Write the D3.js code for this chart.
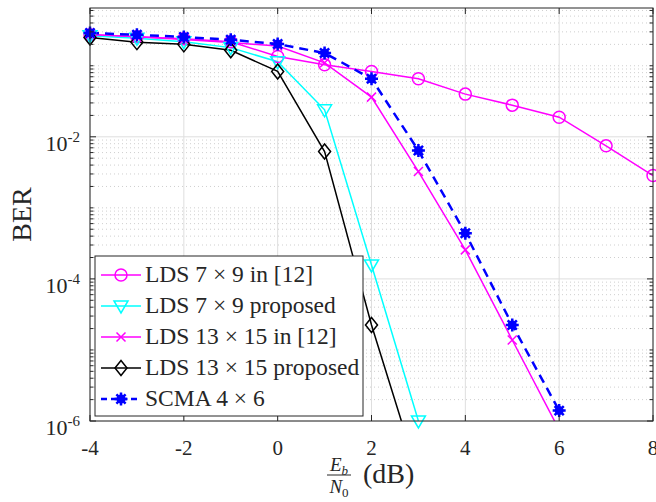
<!DOCTYPE html>
<html lang="en">
	<head>
		<meta charset="utf-8">
		<title>BER</title>
		<script type="text/javascript" src="https://cdn.jsdelivr.net/npm/d3@7"></script>
		<style type="text/css">
			body { margin: 0; background: white; }
			svg text { font-family: "Liberation Serif", "Times New Roman", serif; fill: #262626; }
		</style>
	</head>
	<body>
		<script type="text/javascript">

			//Eb/N0 values (dB)
			var snr = [-4, -3, -2, -1, 0, 1, 2, 3, 4, 5, 6, 7, 8];

			//BER per curve
			var lds79Ref   = [0.273, 0.256, 0.240, 0.218, 0.135, 0.103, 0.083, 0.0656, 0.0399, 0.0279, 0.0189, 0.00746, 0.00285];
			var lds79Prop  = [0.265, 0.244, 0.218, 0.180, 0.114, 0.024, 1.57e-4, 1.0e-6];
			var lds1315Ref = [0.275, 0.255, 0.235, 0.212, 0.19, 0.11, 0.0362, 0.00324, 2.56e-4, 1.38e-5, 7.5e-7];
			var lds1315Prop = [0.25, 0.215, 0.20, 0.165, 0.0832, 0.00621, 2.25e-5, 1.7e-7];
			var scma       = [0.289, 0.273, 0.254, 0.232, 0.202, 0.151, 0.0656, 0.00641, 4.4e-4, 2.25e-5, 1.40e-6];

			var xTicks = [-4, -2, 0, 2, 4, 6, 8];
			var yTicks = [1e-6, 1e-4, 1e-2];
			var yTickExp = ["-6", "-4", "-2"];

			var legendLabels = ["LDS 7 \u00d7 9 in [12]", "LDS 7 \u00d7 9 proposed", "LDS 13 \u00d7 15 in [12]",
			                    "LDS 13 \u00d7 15 proposed", "SCMA 4 \u00d7 6"];

			//Width and height
			var w = 656;
			var h = 502;
			var padL = 90, padR = 653, padT = 8, padB = 421;
			var axisColor = "#262626";

			var xScale = d3.scaleLinear().domain([-4, 8]).range([padL, padR]);
			var yScale = d3.scaleLog().domain([1e-6, 0.65]).range([padB, padT]);

			var series = [
				{ data: lds79Ref,    color: "#ff00ff", marker: "circle",   dash: null, width: 1.5 },
				{ data: lds79Prop,   color: "#00ffff", marker: "triangle", dash: null, width: 1.5 },
				{ data: lds1315Ref,  color: "#ff00ff", marker: "cross",    dash: null, width: 1.5 },
				{ data: lds1315Prop, color: "#000000", marker: "diamond",  dash: null, width: 1.5 },
				{ data: scma,        color: "#0000ff", marker: "star",     dash: "9,6", width: 2.5 }
			];

			var svg = d3.select("body")
						.append("svg")
						.attr("width", w)
						.attr("height", h);

			svg.append("defs").append("clipPath")
				.attr("id", "plotClip")
				.append("rect")
				.attr("x", padL).attr("y", padT)
				.attr("width", padR - padL).attr("height", padB - padT);

			//Minor y values: 1..9 times each decade, skipping labelled ones
			var minorY = [];
			for (var k = -6; k <= 0; k++) {
				for (var m = 1; m <= 9; m++) {
					var v = m * Math.pow(10, k);
					var isMajor = yTicks.some(function(t) { return Math.abs(t - v) / t < 1e-6; });
					if (v > 1e-6 * 1.0001 && v <= 0.65 && !isMajor) minorY.push(v);
				}
			}

			//Grid lines
			var grid = svg.append("g");
			grid.selectAll("line.minor")
				.data(minorY)
				.enter()
				.append("line")
				.attr("x1", padL).attr("x2", padR)
				.attr("y1", function(d) { return yScale(d); })
				.attr("y2", function(d) { return yScale(d); })
				.attr("stroke", "#cfcfcf")
				.attr("stroke-width", 1)
				.attr("stroke-dasharray", "1,3");
			grid.selectAll("line.majorY")
				.data(yTicks)
				.enter()
				.append("line")
				.attr("x1", padL).attr("x2", padR)
				.attr("y1", function(d) { return yScale(d); })
				.attr("y2", function(d) { return yScale(d); })
				.attr("stroke", "#dedede")
				.attr("stroke-width", 1);
			grid.selectAll("line.majorX")
				.data(xTicks)
				.enter()
				.append("line")
				.attr("x1", function(d) { return xScale(d); })
				.attr("x2", function(d) { return xScale(d); })
				.attr("y1", padT).attr("y2", padB)
				.attr("stroke", "#dedede")
				.attr("stroke-width", 1);

			//Curves
			var line = d3.line()
				.x(function(d) { return xScale(d[0]); })
				.y(function(d) { return yScale(d[1]); });

			var plot = svg.append("g").attr("clip-path", "url(#plotClip)");
			series.forEach(function(s) {
				var pts = s.data.map(function(v, i) { return [snr[i], v]; });
				plot.append("path")
					.datum(pts)
					.attr("d", line)
					.attr("fill", "none")
					.attr("stroke", s.color)
					.attr("stroke-width", s.width)
					.attr("stroke-dasharray", s.dash);
			});

			//Marker drawing
			function drawMarker(g, type, color, x, y) {
				if (type == "circle") {
					g.append("circle").attr("cx", x).attr("cy", y).attr("r", 6)
						.attr("fill", "none").attr("stroke", color).attr("stroke-width", 1.5);
				} else if (type == "triangle") {
					g.append("path")
						.attr("d", "M" + (x - 7) + "," + (y - 5) + "L" + (x + 7) + "," + (y - 5) + "L" + x + "," + (y + 7) + "Z")
						.attr("fill", "none").attr("stroke", color).attr("stroke-width", 1.5);
				} else if (type == "cross") {
					g.append("path")
						.attr("d", "M" + (x - 4.5) + "," + (y - 4.5) + "L" + (x + 4.5) + "," + (y + 4.5) +
						           "M" + (x - 4.5) + "," + (y + 4.5) + "L" + (x + 4.5) + "," + (y - 4.5))
						.attr("stroke", color).attr("stroke-width", 1.5);
				} else if (type == "diamond") {
					g.append("path")
						.attr("d", "M" + x + "," + (y - 7.5) + "L" + (x + 6) + "," + y + "L" + x + "," + (y + 7.5) + "L" + (x - 6) + "," + y + "Z")
						.attr("fill", "none").attr("stroke", color).attr("stroke-width", 1.5);
				} else if (type == "star") {
					var d = "";
					for (var a = 0; a < 4; a++) {
						var ang = a * Math.PI / 4;
						d += "M" + (x - 6.5 * Math.cos(ang)) + "," + (y - 6.5 * Math.sin(ang)) +
						     "L" + (x + 6.5 * Math.cos(ang)) + "," + (y + 6.5 * Math.sin(ang));
					}
					g.append("path").attr("d", d).attr("stroke", color).attr("stroke-width", 2.5);
					g.append("circle").attr("cx", x).attr("cy", y).attr("r", 4.5).attr("fill", color);
				}
			}

			var markers = svg.append("g");
			series.forEach(function(s) {
				s.data.forEach(function(v, i) {
					if (v < 0.95e-6) return;
					drawMarker(markers, s.marker, s.color, xScale(snr[i]), yScale(v));
				});
			});

			//Axes box and ticks
			var axes = svg.append("g");
			axes.append("rect")
				.attr("x", padL).attr("y", padT)
				.attr("width", padR - padL).attr("height", padB - padT)
				.attr("fill", "none").attr("stroke", axisColor).attr("stroke-width", 1);

			xTicks.forEach(function(t) {
				var x = xScale(t);
				axes.append("line").attr("x1", x).attr("x2", x).attr("y1", padB).attr("y2", padB - 6).attr("stroke", axisColor);
				axes.append("line").attr("x1", x).attr("x2", x).attr("y1", padT).attr("y2", padT + 6).attr("stroke", axisColor);
				axes.append("text")
					.attr("x", x).attr("y", padB + 34)
					.attr("text-anchor", "middle")
					.style("font-size", "21px")
					.text(t);
			});

			minorY.forEach(function(v) {
				var y = yScale(v);
				axes.append("line").attr("x1", padL).attr("x2", padL + 3.5).attr("y1", y).attr("y2", y).attr("stroke", axisColor);
				axes.append("line").attr("x1", padR).attr("x2", padR - 3.5).attr("y1", y).attr("y2", y).attr("stroke", axisColor);
			});

			yTicks.forEach(function(t, i) {
				var y = yScale(t);
				axes.append("line").attr("x1", padL).attr("x2", padL + 6).attr("y1", y).attr("y2", y).attr("stroke", axisColor);
				axes.append("line").attr("x1", padR).attr("x2", padR - 6).attr("y1", y).attr("y2", y).attr("stroke", axisColor);
				var lbl = axes.append("text")
					.attr("x", padL - 10).attr("y", y + 14)
					.attr("text-anchor", "end")
					.style("font-size", "22px");
				lbl.append("tspan").text("10");
				lbl.append("tspan").attr("dy", -9).style("font-size", "15px").text(yTickExp[i]);
			});

			//Axis titles
			svg.append("text")
				.attr("transform", "translate(31," + ((padT + padB) / 2) + ") rotate(-90)")
				.attr("text-anchor", "middle")
				.style("font-size", "28px")
				.text("BER");

			var xl = svg.append("g");
			var fx = 339;
			var eb = xl.append("text").attr("x", fx).attr("y", 471).attr("text-anchor", "middle").style("font-size", "19px");
			eb.append("tspan").style("font-style", "italic").text("E");
			eb.append("tspan").attr("dy", 4).style("font-size", "13px").style("font-style", "italic").text("b");
			xl.append("line").attr("x1", fx - 12).attr("x2", fx + 12).attr("y1", 475).attr("y2", 475).attr("stroke", axisColor).attr("stroke-width", 1);
			var n0 = xl.append("text").attr("x", fx).attr("y", 493).attr("text-anchor", "middle").style("font-size", "19px");
			n0.append("tspan").style("font-style", "italic").text("N");
			n0.append("tspan").attr("dy", 4).style("font-size", "13px").text("0");
			xl.append("text").attr("x", 363).attr("y", 483).style("font-size", "28px").text("(dB)");

			//Legend
			var legend = svg.append("g");
			legend.append("rect")
				.attr("x", 95).attr("y", 256)
				.attr("width", 268).attr("height", 160)
				.attr("fill", "white").attr("stroke", axisColor).attr("stroke-width", 1);

			series.forEach(function(s, i) {
				var y = 275 + i * 31;
				legend.append("line")
					.attr("x1", 101).attr("x2", 141).attr("y1", y).attr("y2", y)
					.attr("stroke", s.color).attr("stroke-width", s.width)
					.attr("stroke-dasharray", s.dash ? "6,4" : null);
				drawMarker(legend, s.marker, s.color, 121, y);
				legend.append("text")
					.attr("x", 145).attr("y", y + 7)
					.style("font-size", "23.5px")
					.text(legendLabels[i]);
			});

		</script>
	</body>
</html>
